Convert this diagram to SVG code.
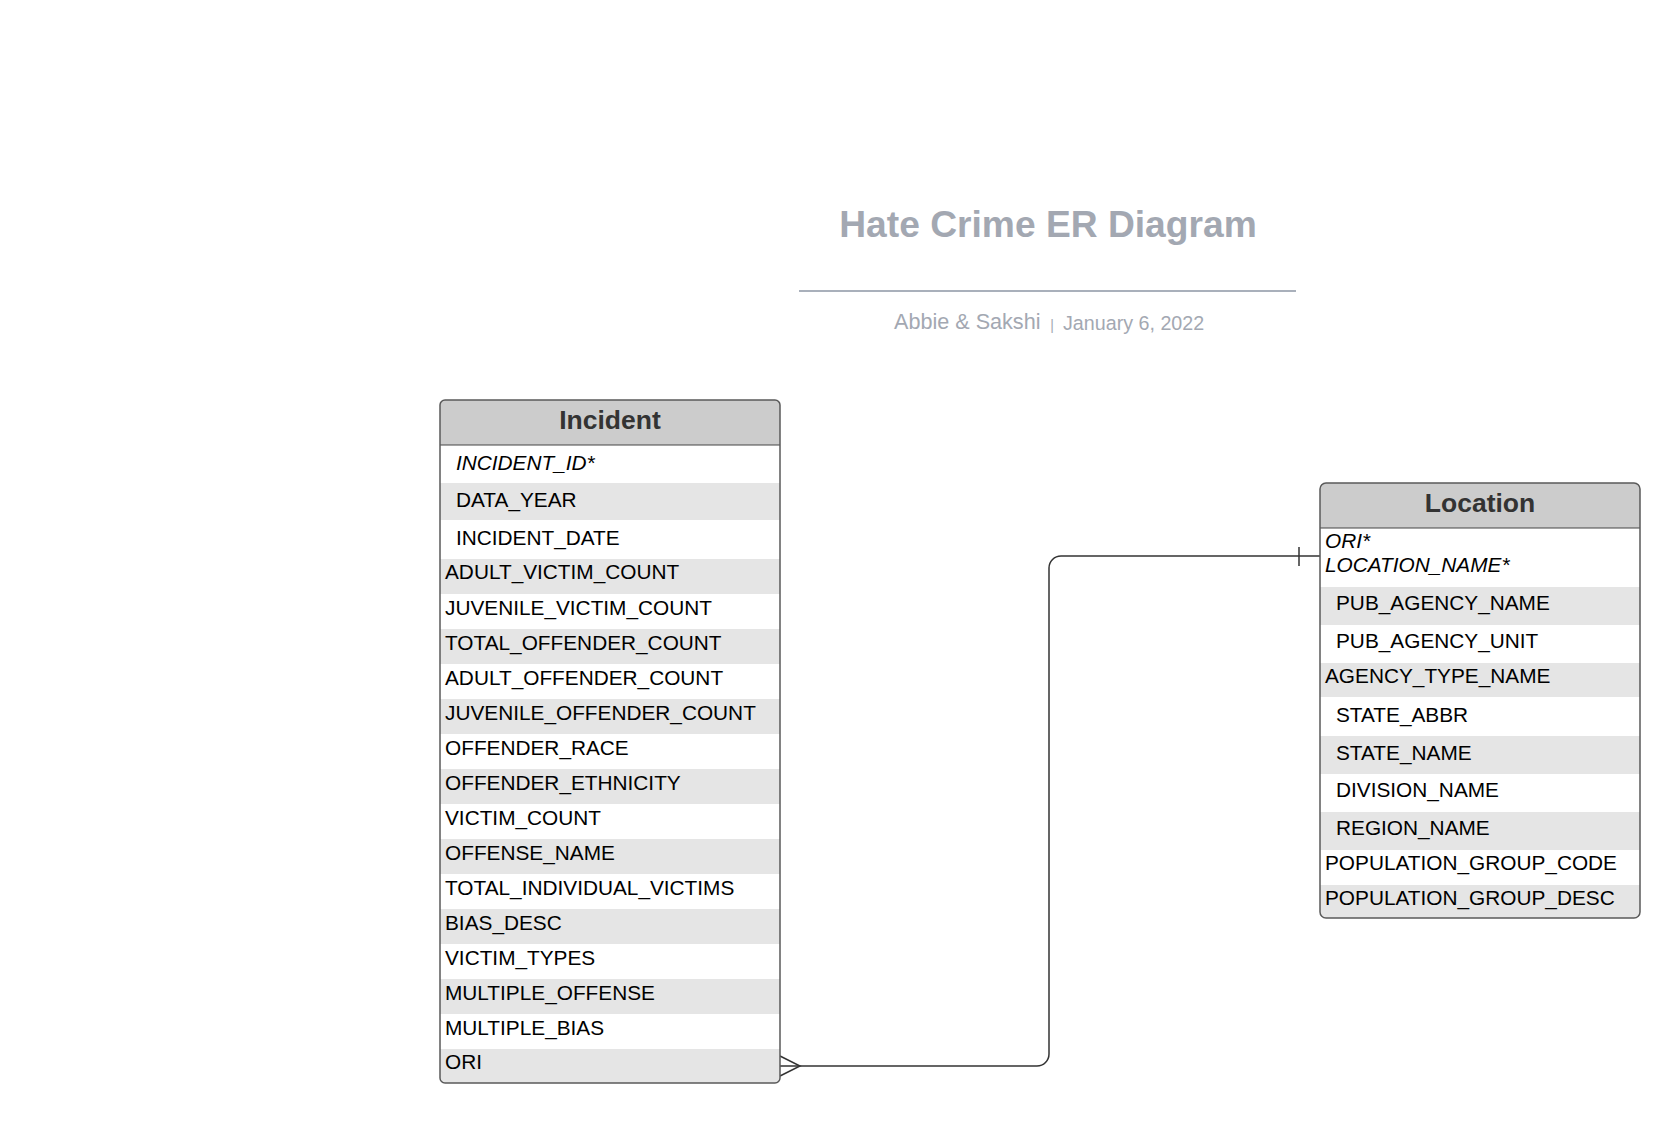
<svg xmlns="http://www.w3.org/2000/svg" width="1680" height="1123" viewBox="0 0 1680 1123">
<style>
.title{font-family:"Liberation Sans",Arial,sans-serif;font-weight:bold;font-size:37.2px;fill:#a3a8b2}
.sub{font-family:"Liberation Sans",Arial,sans-serif;fill:#a3a8b2}
.hdr{font-family:"Liberation Sans",Arial,sans-serif;font-weight:bold;font-size:26.5px;fill:#333333}
.att{font-family:"Liberation Sans",Arial,sans-serif;font-size:20.8px;fill:#000000}
.it{font-style:italic}
.alt{fill:#e5e5e5}
.hfill{fill:#cccccc}
.frame{fill:none;stroke:#5a5a5a;stroke-width:1.5}
.sep{stroke:#444444;stroke-width:1.2}
.conn{fill:none;stroke:#333333;stroke-width:1.5}
</style>
<defs>
<clipPath id="clipInc"><rect x="440" y="400" width="340" height="683" rx="5"/></clipPath>
<clipPath id="clipLoc"><rect x="1320" y="483" width="320" height="435" rx="6"/></clipPath>
</defs>
<rect width="1680" height="1123" fill="#ffffff"/>

<g id="title-block">
<text class="title" x="1048" y="237" text-anchor="middle">Hate Crime ER Diagram</text>
<line x1="799" y1="291" x2="1296" y2="291" stroke="#a9b0bb" stroke-width="2"/>
<text class="sub" x="894" y="329" font-size="21.6">Abbie &amp; Sakshi</text>
<text class="sub" x="1052" y="330" font-size="14" text-anchor="middle" fill="#c3c7ce">|</text>
<text class="sub" x="1063" y="330" font-size="19.7">January 6, 2022</text>
</g>

<g id="connectors">
<path class="conn" d="M780,1066 H1037 A12,12 0 0 0 1049,1054 V568 A12,12 0 0 1 1061,556 H1320"/>
<path class="conn" d="M780,1056 L800,1066 L780,1076"/>
<line class="conn" x1="1299" y1="547" x2="1299" y2="566"/>
</g>

<g id="node-incident">
<g clip-path="url(#clipInc)">
<rect x="440" y="400" width="340" height="683" fill="#ffffff"/>
<rect class="hfill" x="440" y="400" width="340" height="45"/>
<rect class="alt" x="440" y="483" width="340" height="37"/>
<rect class="alt" x="440" y="559" width="340" height="35"/>
<rect class="alt" x="440" y="629" width="340" height="35"/>
<rect class="alt" x="440" y="699" width="340" height="35"/>
<rect class="alt" x="440" y="769" width="340" height="35"/>
<rect class="alt" x="440" y="839" width="340" height="35"/>
<rect class="alt" x="440" y="909" width="340" height="35"/>
<rect class="alt" x="440" y="979" width="340" height="35"/>
<rect class="alt" x="440" y="1049" width="340" height="35"/>
</g>
<line class="sep" x1="440" y1="445" x2="780" y2="445"/>
<rect class="frame" x="440" y="400" width="340" height="683" rx="5"/>
<text class="hdr" x="610" y="429" text-anchor="middle">Incident</text>
<text class="att it" x="456" y="470">INCIDENT_ID*</text>
<text class="att" x="456" y="507">DATA_YEAR</text>
<text class="att" x="456" y="545">INCIDENT_DATE</text>
<text class="att" x="445" y="579">ADULT_VICTIM_COUNT</text>
<text class="att" x="445" y="614.5">JUVENILE_VICTIM_COUNT</text>
<text class="att" x="445" y="649.5">TOTAL_OFFENDER_COUNT</text>
<text class="att" x="445" y="684.5">ADULT_OFFENDER_COUNT</text>
<text class="att" x="445" y="719.5">JUVENILE_OFFENDER_COUNT</text>
<text class="att" x="445" y="754.5">OFFENDER_RACE</text>
<text class="att" x="445" y="789.5">OFFENDER_ETHNICITY</text>
<text class="att" x="445" y="824.5">VICTIM_COUNT</text>
<text class="att" x="445" y="859.5">OFFENSE_NAME</text>
<text class="att" x="445" y="894.5">TOTAL_INDIVIDUAL_VICTIMS</text>
<text class="att" x="445" y="929.5">BIAS_DESC</text>
<text class="att" x="445" y="964.5">VICTIM_TYPES</text>
<text class="att" x="445" y="999.5">MULTIPLE_OFFENSE</text>
<text class="att" x="445" y="1034.5">MULTIPLE_BIAS</text>
<text class="att" x="445" y="1068.5">ORI</text>
</g>

<g id="node-location">
<g clip-path="url(#clipLoc)">
<rect x="1320" y="483" width="320" height="435" fill="#ffffff"/>
<rect class="hfill" x="1320" y="483" width="320" height="45"/>
<rect class="alt" x="1320" y="587" width="320" height="38"/>
<rect class="alt" x="1320" y="663" width="320" height="34"/>
<rect class="alt" x="1320" y="736" width="320" height="38"/>
<rect class="alt" x="1320" y="812" width="320" height="38"/>
<rect class="alt" x="1320" y="885" width="320" height="35"/>
</g>
<line class="sep" x1="1320" y1="528" x2="1640" y2="528"/>
<rect class="frame" x="1320" y="483" width="320" height="435" rx="6"/>
<text class="hdr" x="1480" y="512" text-anchor="middle">Location</text>
<text class="att it" x="1325" y="548">ORI*</text>
<text class="att it" x="1325" y="572">LOCATION_NAME*</text>
<text class="att" x="1336" y="610">PUB_AGENCY_NAME</text>
<text class="att" x="1336" y="648">PUB_AGENCY_UNIT</text>
<text class="att" x="1325" y="683">AGENCY_TYPE_NAME</text>
<text class="att" x="1336" y="722">STATE_ABBR</text>
<text class="att" x="1336" y="760">STATE_NAME</text>
<text class="att" x="1336" y="797">DIVISION_NAME</text>
<text class="att" x="1336" y="835">REGION_NAME</text>
<text class="att" x="1325" y="870">POPULATION_GROUP_CODE</text>
<text class="att" x="1325" y="905">POPULATION_GROUP_DESC</text>
</g>
</svg>
